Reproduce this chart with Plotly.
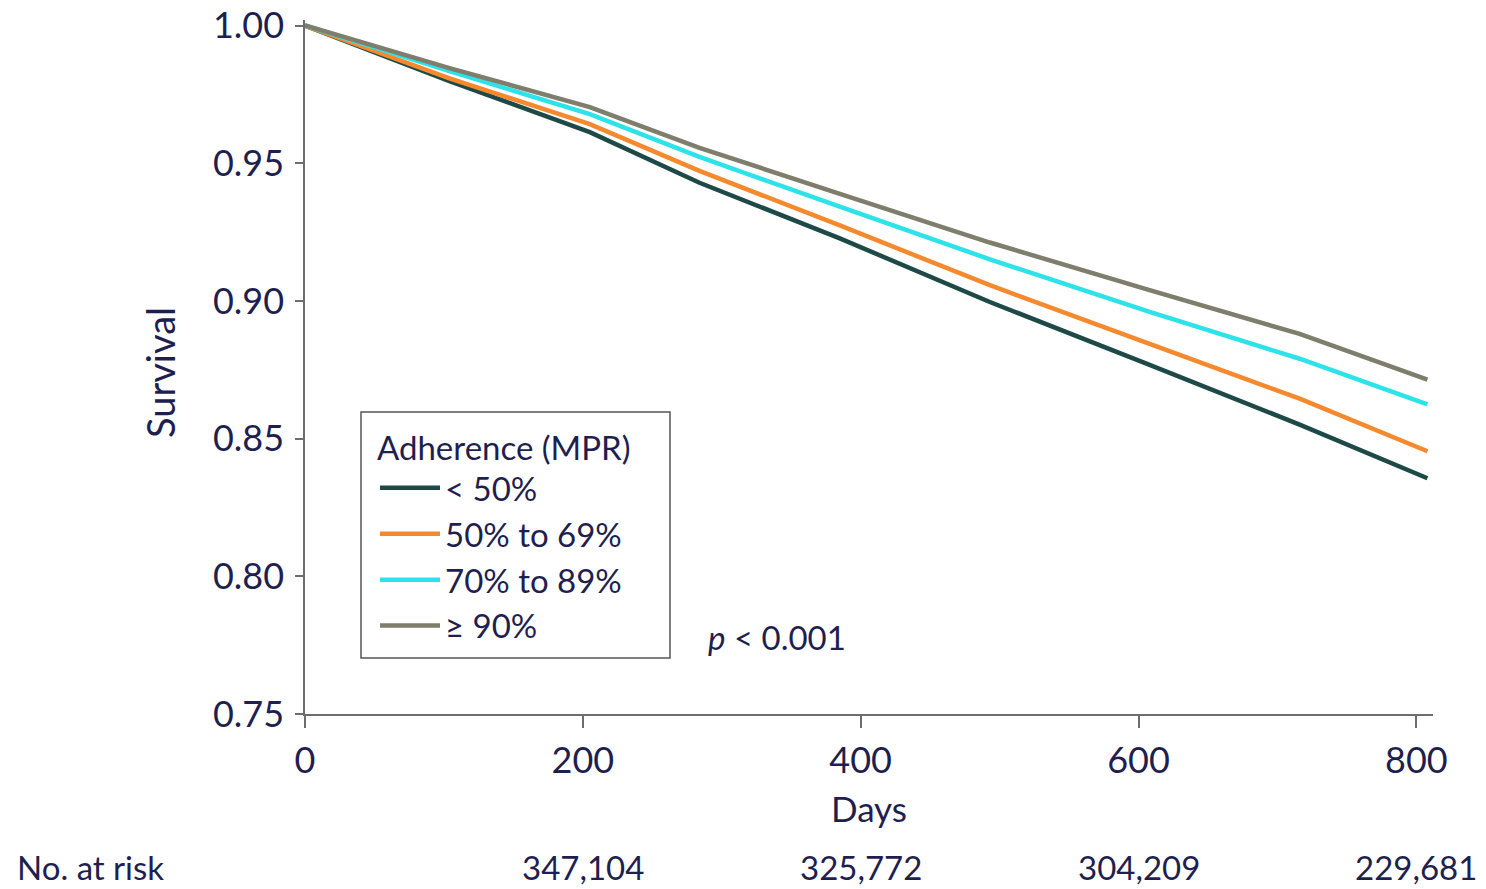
import plotly.graph_objects as go

days = [0, 104, 205, 284, 385, 493, 608, 716, 808]
surv_lt50 = [1.0, 0.9798, 0.9613, 0.9429, 0.9227, 0.8996, 0.8768, 0.8551, 0.8356]
surv_50_69 = [1.0, 0.9808, 0.9642, 0.9472, 0.9274, 0.9057, 0.8844, 0.8645, 0.8454]
surv_70_89 = [1.0, 0.9834, 0.9678, 0.9523, 0.9342, 0.9151, 0.8960, 0.8790, 0.8624]
surv_ge90 = [1.0, 0.9845, 0.9704, 0.9556, 0.9389, 0.9212, 0.9039, 0.8880, 0.8714]

series_names = ["< 50%", "50% to 69%", "70% to 89%", "\u2265 90%"]
series_colors = ["#1d4a47", "#f5892e", "#2ee2ea", "#7f7d6c"]

risk_days = [200, 400, 600, 800]
risk_labels = ["347,104", "325,772", "304,209", "229,681"]

x_ticks = [0, 200, 400, 600, 800]
y_ticks = [0.75, 0.80, 0.85, 0.90, 0.95, 1.00]

TXT = "#1f1f4f"
FONT = "Lato"

W, H = 1486, 889
ML, MR, MT, MB = 305, 53, 20, 175
PW = W - ML - MR
PH = H - MT - MB


def px_x(p):
    return (p - ML) / PW


def px_y(p):
    return (H - MB - p) / PH


fig = go.Figure()
for name, col, ys in zip(series_names, series_colors,
                         [surv_lt50, surv_50_69, surv_70_89, surv_ge90]):
    fig.add_trace(go.Scatter(x=days, y=ys, mode="lines", name=name,
                             line=dict(color=col, width=4.5)))

fig.update_layout(
    width=W, height=H,
    margin=dict(l=ML, r=MR, t=MT, b=MB, autoexpand=False),
    paper_bgcolor="white", plot_bgcolor="white",
    font=dict(family=FONT, color=TXT, size=33),
    showlegend=True,
    legend=dict(
        x=px_x(375), y=px_y(417), xanchor="left", yanchor="top",
        borderwidth=0, bgcolor="rgba(0,0,0,0)",
        title=dict(text="Adherence (MPR)", font=dict(size=33, color=TXT)),
        font=dict(size=33, color=TXT),
        itemwidth=60,
        tracegroupgap=0,
    ),
    shapes=[dict(type="rect", xref="paper", yref="paper",
                 x0=px_x(361), x1=px_x(670), y0=px_y(658), y1=px_y(412),
                 line=dict(color="#555555", width=1.5), layer="below")],
)

fig.update_xaxes(
    range=[0, 812], tickvals=x_ticks, ticktext=[str(v) for v in x_ticks],
    showgrid=False, zeroline=False, showline=True, linecolor="#6d6d6d", linewidth=1.5,
    ticks="outside", ticklen=12, tickcolor="#6d6d6d", tickwidth=1.5,
    tickfont=dict(size=36, color=TXT, family=FONT),
    ticklabelstandoff=2, automargin=False,
    title=dict(text="Days", font=dict(size=35, color=TXT), standoff=18),
)
fig.update_yaxes(
    range=[0.75, 1.002], tickvals=y_ticks, ticktext=[f"{v:.2f}" for v in y_ticks],
    showgrid=False, zeroline=False, showline=True, linecolor="#6d6d6d", linewidth=1.5,
    ticks="outside", ticklen=8, tickcolor="#6d6d6d", tickwidth=1.5,
    tickfont=dict(size=36, color=TXT, family=FONT),
    ticklabelstandoff=4, ticklabeloverflow="allow", automargin=False,
)

fig.add_annotation(x=px_x(160), xref="paper", y=px_y(373), yref="paper",
                   xanchor="center", yanchor="middle", textangle=-90,
                   text="Survival", showarrow=False, font=dict(size=38, color=TXT))

for d, lab in zip(risk_days, risk_labels):
    fig.add_annotation(x=d, xref="x", y=px_y(867), yref="paper",
                       yanchor="middle", text=lab, showarrow=False,
                       font=dict(size=33, color=TXT))
fig.add_annotation(x=px_x(15), xref="paper", xanchor="left",
                   y=px_y(867), yref="paper", yanchor="middle",
                   text="No. at risk", showarrow=False, font=dict(size=33, color=TXT))
fig.add_annotation(x=289, xref="x", xanchor="left", y=0.7778, yref="y", yanchor="middle",
                   text="<i>p</i> < 0.001", showarrow=False, font=dict(size=33, color=TXT))

fig.write_html("out.html")
